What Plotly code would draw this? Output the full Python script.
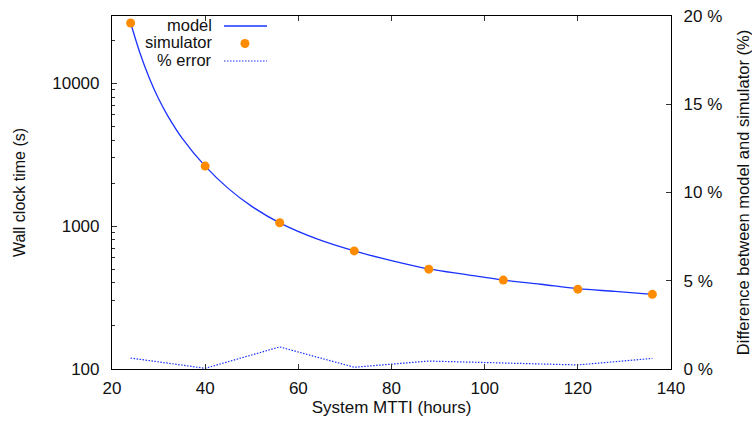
import plotly.graph_objects as go

# System MTTI (hours) at which the simulator was run
mtti = [24, 40, 56, 72, 88, 104, 120, 136]
# Simulated wall clock time (s)
sim_time = [26400, 2630, 1055, 671, 500, 419, 362, 333]
# Percent difference between model and simulator
pct_error = [0.62, 0.04, 1.25, 0.10, 0.45, 0.36, 0.23, 0.60]

# Analytical model, sampled along the curve
model_x = [24, 26, 28, 30, 32, 35, 40, 45, 50, 56, 64, 72,
           80, 88, 96, 104, 112, 120, 128, 136]
model_y = [26400, 16300, 10900, 7780, 5890, 4150, 2630, 1830, 1375, 1055, 814, 671,
           574, 502, 458, 419, 392, 365, 349, 333]

BLUE = "#1a32ff"
ORANGE = "#ff8c00"
FONT = "Liberation Sans, Arial, sans-serif"
FS = 17

fig = go.Figure()

fig.add_trace(go.Scatter(
    x=model_x, y=model_y, mode="lines", name="model",
    line=dict(color=BLUE, width=1.3, shape="spline", smoothing=1.0),
    showlegend=False,
))
fig.add_trace(go.Scatter(
    x=mtti, y=sim_time, mode="markers", name="simulator",
    marker=dict(color=ORANGE, size=9, line=dict(width=0)),
    showlegend=False,
))
fig.add_trace(go.Scatter(
    x=mtti, y=pct_error, mode="lines", name="% error", yaxis="y2",
    line=dict(color=BLUE, width=1.2, dash="1.5px,1.5px"),
    showlegend=False,
))

axis_common = dict(
    showline=True, linecolor="black", linewidth=1.2,
    ticks="inside", tickcolor="#333", ticklen=5, tickwidth=1,
    showgrid=False, zeroline=False, automargin=False,
    tickfont=dict(family=FONT, size=FS, color="#111"),
)

fig.update_layout(
    width=752, height=424,
    margin=dict(l=112, r=81, t=16, b=55),
    paper_bgcolor="white", plot_bgcolor="white",
    font=dict(family=FONT, size=FS, color="#111"),
    xaxis=dict(
        **axis_common, range=[20, 140], dtick=20, tick0=20, mirror="ticks",
        title=dict(text="System MTTI (hours)", font=dict(family=FONT, size=FS), standoff=4),
        ticklabelstandoff=3,
    ),
    yaxis=dict(
        **axis_common, type="log", range=[2, 4.4706], mirror=True,
        tickvals=[100, 1000, 10000], ticktext=["100", "1000", "10000"],
        minor=dict(ticks="inside", ticklen=3, tickcolor="#333", dtick="D1", showgrid=False),
        title=dict(text="Wall clock time (s)", font=dict(family=FONT, size=16), standoff=22),
        ticklabelstandoff=8,
    ),
    yaxis2=dict(
        **axis_common, overlaying="y", side="right", range=[0, 20], dtick=5,
        ticksuffix=" %",
        title=dict(text="Difference between model and simulator (%)",
                   font=dict(family=FONT, size=16.5), standoff=16),
        ticklabelstandoff=8,
    ),
)

# Key in the upper left: right-aligned labels followed by samples
key_rows = [("model", 0.9745), ("simulator", 0.925), ("% error", 0.8755)]
for label, yy in key_rows:
    fig.add_annotation(
        xref="paper", yref="paper", x=0.1807, y=yy, text=label,
        showarrow=False, xanchor="right", yanchor="middle",
        height=16, borderpad=0, valign="middle",
        font=dict(family=FONT, size=FS - 0.5, color="#111"),
    )
fig.add_shape(type="line", xref="paper", yref="paper",
              x0=0.2004, x1=0.2773, y0=0.9717, y1=0.9717,
              line=dict(color=BLUE, width=1.3))
fig.add_shape(type="circle", xref="paper", yref="paper",
              xsizemode="pixel", ysizemode="pixel",
              xanchor=0.2379, yanchor=0.922, x0=-4.5, x1=4.5, y0=-4.5, y1=4.5,
              fillcolor=ORANGE, line=dict(width=0))
fig.add_shape(type="line", xref="paper", yref="paper",
              x0=0.2004, x1=0.2773, y0=0.8725, y1=0.8725,
              line=dict(color=BLUE, width=1.2, dash="1.5px,1.5px"))

fig.write_html("out.html")
